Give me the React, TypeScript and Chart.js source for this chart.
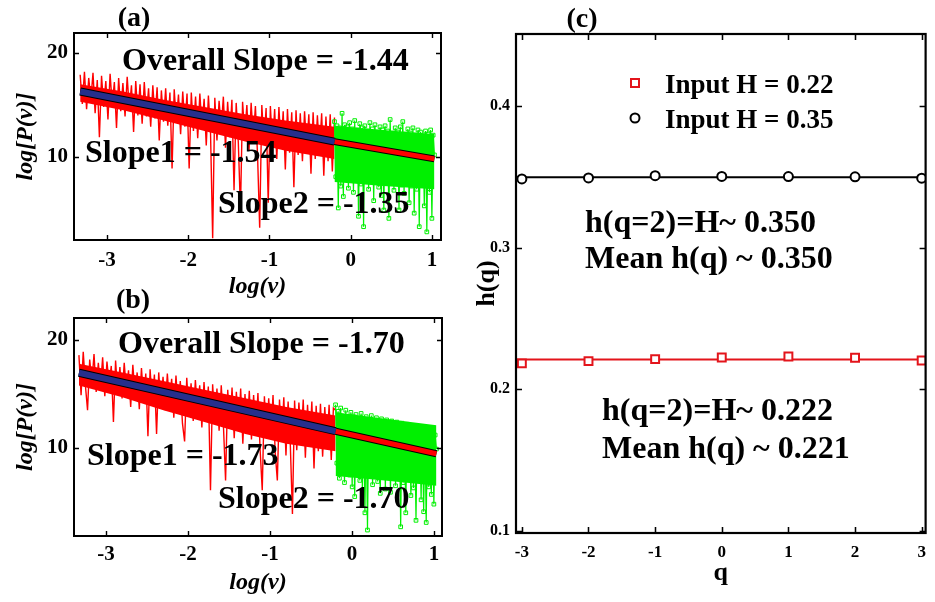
import React, { useEffect, useRef } from "react";
import { Chart, registerables } from "chart.js";

Chart.register(...registerables);

const SERIF = '"Liberation Serif", "Times New Roman", Times, serif';

// ---------- spectra, panels (a) and (b) ----------
// log(ν) extent: the low-frequency band (red) ends where the high-frequency band (green) starts
const LOG_NU_START = -3.33;
const LOG_NU_SPLIT = -0.2;
const LOG_NU_END = 1.03;

const SPECTRUM_X_TICKS = [-3, -2, -1, 0, 1];
const SPECTRUM_Y_TICKS = [10, 20];

// knots of the densely packed core of each band (where the bins overlap into a solid area)
const LOW_CORE_X = [-3.33, -2.8, -2.3, -1.8, -1.3, -0.8, -0.2];
const HIGH_CORE_X = [-0.2, 0.4, 1.03];

// (a) log[P(ν)] per bin, low band
const LOW_BAND_A = [
  17.9, 15.1, 18.2, 14.6, 17.6, 15.5, 18.1, 14.2, 17.4, 11.9,
  17.8, 14.8, 17.3, 13.6, 18.0, 15.0, 17.2, 12.8, 17.6, 14.4,
  17.1, 13.9, 17.7, 14.6, 16.9, 12.4, 17.3, 14.0, 17.0, 13.2,
  17.2, 13.9, 16.6, 12.9, 16.9, 13.7, 16.7, 11.6, 16.4, 13.4,
  16.6, 13.0, 16.2, 8.9, 16.5, 13.3, 16.0, 12.2, 16.3, 12.9,
  16.1, 8.9, 16.2, 12.5, 15.8, 11.8, 16.1, 12.8, 15.6, 11.1,
  15.9, 12.3, 2.2, 15.7, 11.6, 15.4, 12.7, 15.8, 10.9, 15.3,
  11.9, 15.5, 6.8, 15.2, 11.4, 4.9, 15.3, 12.1, 15.0, 10.6,
  15.2, 11.7, 14.9, 10.2, 3.2, 15.0, 11.3, 14.7, 5.6, 14.9,
  10.9, 14.6, 9.8, 14.8, 10.8, 14.4, 8.8, 14.6, 10.4, 14.3,
  7.1, 14.5, 10.2, 14.2, 9.6, 14.4, 10.7, 14.1, 8.4, 14.3,
  9.8, 14.0, 10.5, 14.2, 8.2, 13.9, 9.6, 14.1, 8.6, 13.8,
];
// (a) high band
const HIGH_BAND_A = [
  13.4, 8.1, 13.0, 5.1, 12.8, 7.2, 14.2, 6.2, 13.1, 8.4,
  12.9, 7.0, 13.3, 9.1, 12.7, 6.6, 13.5, 8.0, 12.6, 4.3,
  13.2, 7.4, 12.8, 3.3, 13.0, 8.3, 12.5, 6.9, 13.3, 7.8,
  12.7, 5.8, 13.1, 8.6, 12.4, 7.1, 12.9, 6.3, 12.6, 4.9,
  13.0, 7.5, 12.5, 4.1, 13.6, 8.2, 12.3, 6.8, 12.8, 7.6,
  12.4, 4.9, 12.9, 7.3, 13.4, 6.5, 12.2, 8.0, 12.7, 5.6,
  12.3, 7.2, 12.8, 4.6, 12.1, 6.9, 12.6, 3.3, 12.4, 7.8,
  12.0, 5.3, 12.5, 2.8, 12.2, 6.6, 12.6, 4.1, 12.1, 10.2,
];
const LOW_CORE_TOP_A = [17.0, 16.3, 15.5, 14.8, 14.1, 13.5, 12.9];
const LOW_CORE_BOTTOM_A = [15.3, 14.5, 13.5, 12.5, 11.5, 10.6, 9.8];
const HIGH_CORE_TOP_A = [13.0, 12.6, 12.2];
const HIGH_CORE_BOTTOM_A = [7.6, 7.2, 6.9];
const FIT_START_A = 16.3;
const SLOPE1_A = -1.54;
const SLOPE2_A = -1.35;
const OVERALL_SLOPE_A = -1.44;

// (b) low band
const LOW_BAND_B = [
  18.6, 14.9, 18.9, 15.8, 13.5, 18.2, 16.0, 18.7, 15.2, 17.9,
  15.6, 18.4, 14.8, 18.0, 15.9, 17.6, 12.4, 18.1, 15.0, 17.5,
  14.6, 17.9, 15.3, 17.2, 13.8, 17.7, 14.9, 17.0, 13.6, 17.4,
  14.4, 16.9, 11.1, 17.3, 14.2, 16.8, 11.3, 17.0, 13.9, 16.6,
  13.5, 16.9, 14.0, 16.4, 12.8, 16.7, 13.6, 16.2, 12.3, 10.6,
  16.5, 13.2, 16.0, 12.5, 16.3, 13.4, 15.8, 11.9, 16.1, 12.8,
  15.7, 6.1, 15.9, 12.4, 15.5, 11.6, 15.8, 12.1, 7.0, 15.4,
  11.8, 15.6, 10.9, 15.2, 11.9, 15.5, 10.4, 15.0, 11.5, 15.3,
  10.8, 14.9, 11.3, 15.1, 9.9, 6.1, 14.8, 10.9, 14.6, 11.2,
  14.9, 9.6, 7.0, 14.5, 10.7, 14.7, 9.3, 14.3, 10.4, 3.9,
  14.4, 9.8, 14.2, 10.5, 14.5, 9.1, 14.0, 10.2, 14.3, 8.1,
  13.9, 9.7, 14.1, 9.2, 13.8, 10.0, 14.0, 8.9, 13.7, 13.5,
];
// (b) high band
const HIGH_BAND_B = [
  14.0, 8.6, 13.4, 7.2, 13.7, 9.0, 12.9, 6.8, 13.5, 8.1,
  12.8, 7.5, 13.3, 6.4, 12.9, 5.5, 13.1, 8.3, 12.6, 7.0,
  13.2, 6.1, 12.7, 4.0, 12.9, 2.4, 12.5, 7.8, 13.0, 6.6,
  12.4, 8.0, 12.8, 6.9, 12.3, 5.8, 12.7, 7.4, 12.2, 6.2,
  12.6, 7.7, 12.1, 5.9, 12.5, 7.2, 12.0, 6.5, 12.4, 7.9,
  11.9, 2.7, 12.3, 6.8, 11.8, 4.0, 12.2, 7.1, 11.7, 5.6,
  12.1, 6.3, 11.6, 3.3, 12.0, 7.0, 11.5, 5.2, 11.9, 4.1,
  11.4, 3.1, 11.8, 6.4, 11.3, 5.7, 11.7, 4.8, 11.2, 9.9,
];
const LOW_CORE_TOP_B = [17.8, 17.0, 16.2, 15.4, 14.6, 13.8, 13.0];
const LOW_CORE_BOTTOM_B = [15.8, 14.7, 13.5, 12.4, 11.3, 10.4, 9.7];
const HIGH_CORE_TOP_B = [13.3, 12.7, 12.1];
const HIGH_CORE_BOTTOM_B = [7.4, 7.0, 6.5];
const FIT_START_B = 16.97;
const SLOPE1_B = -1.73;
const SLOPE2_B = -1.70;
const OVERALL_SLOPE_B = -1.70;

// ---------- generalized Hurst exponents, panel (c) ----------
const Q_VALUES = [-3, -2, -1, 0, 1, 2, 3];
const H_INPUT_022 = [0.2183, 0.2199, 0.2213, 0.2225, 0.2232, 0.2223, 0.2204];
const H_INPUT_035 = [0.3485, 0.3492, 0.3508, 0.3503, 0.3502, 0.35, 0.349];
const Q_TICKS = [-3, -2, -1, 0, 1, 2, 3];
const H_TICKS = [0.1, 0.2, 0.3, 0.4];
const SERIES_LABELS = ["Input H = 0.22", "Input H = 0.35"];

const RED = "#ff0000";
const GREEN = "#00f000";
const NAVY = "#262f8c";
const RED_C = "#e3141b";

type Pt = { x: number; y: number };
type Label = { text: string; x: number; y: number; size: number; align?: CanvasTextAlign };

// spread a band's bins evenly over its log(ν) span
function binPoints(values: number[], from: number, to: number): Pt[] {
  const step = (to - from) / (values.length - 1);
  return values.map((y, i) => ({ x: from + i * step, y }));
}

const zipPts = (xs: number[], ys: number[]): Pt[] => xs.map((x, i) => ({ x, y: ys[i] }));

function fitSegment(x0: number, y0: number, x1: number, slope: number): Pt[] {
  return [
    { x: x0, y: y0 },
    { x: x1, y: y0 + slope * (x1 - x0) },
  ];
}

const mean = (a: number[]) => a.reduce((s, v) => s + v, 0) / a.length;
const fmtSlope = (s: number) => s.toFixed(2);

// Matlab-like closed box with inward tick marks on all four sides
function framePlugin(tickLen: number, width: number) {
  return {
    id: "frame",
    afterDraw(chart: any) {
      const { ctx, chartArea } = chart;
      const { left, right, top, bottom } = chartArea;
      const x = chart.scales.x;
      const y = chart.scales.y;
      ctx.save();
      ctx.strokeStyle = "#000";
      ctx.lineWidth = width;
      ctx.strokeRect(left, top, right - left, bottom - top);
      ctx.lineWidth = Math.max(1.2, width * 0.7);
      ctx.beginPath();
      for (const t of x.ticks) {
        const px = Math.round(x.getPixelForValue(t.value)) + 0.5;
        ctx.moveTo(px, bottom);
        ctx.lineTo(px, bottom - tickLen);
        ctx.moveTo(px, top);
        ctx.lineTo(px, top + tickLen);
      }
      for (const t of y.ticks) {
        const py = Math.round(y.getPixelForValue(t.value)) + 0.5;
        ctx.moveTo(left, py);
        ctx.lineTo(left + tickLen, py);
        ctx.moveTo(right, py);
        ctx.lineTo(right - tickLen, py);
      }
      ctx.stroke();
      ctx.restore();
    },
  };
}

function textPlugin(labels: Label[]) {
  return {
    id: "annotations",
    afterDatasetsDraw(chart: any) {
      const ctx = chart.ctx;
      ctx.save();
      ctx.fillStyle = "#000";
      ctx.textBaseline = "alphabetic";
      for (const l of labels) {
        ctx.font = `bold ${l.size}px ${SERIF}`;
        ctx.textAlign = l.align ?? "left";
        ctx.fillText(l.text, l.x, l.y);
      }
      ctx.restore();
    },
  };
}

function axisCommon(opts: {
  min: number;
  max: number;
  ticks: number[];
  tickSize: number;
  tickPad: number;
  fit: (s: any) => void;
  title: string;
  titleFont: any;
  titlePad: any;
}) {
  return {
    type: "linear",
    min: opts.min,
    max: opts.max,
    afterBuildTicks: (s: any) => {
      s.ticks = opts.ticks.map((v) => ({ value: v }));
    },
    afterFit: opts.fit,
    grid: { display: false, drawTicks: false },
    border: { display: false },
    ticks: {
      autoSkip: false,
      maxRotation: 0,
      color: "#000",
      padding: opts.tickPad,
      font: { family: SERIF, size: opts.tickSize, weight: "bold" },
      callback: (v: number) => String(v),
    },
    title: {
      display: true,
      text: opts.title,
      color: "#000",
      font: opts.titleFont,
      padding: opts.titlePad,
    },
  };
}

function spectrumConfig(spec: {
  low: number[];
  high: number[];
  lowCore: [number[], number[]];
  highCore: [number[], number[]];
  fitStart: number;
  slope1: number;
  slope2: number;
  xRange: [number, number];
  yRange: [number, number];
  padTop: number;
  padRight: number;
  xAxisHeight: number;
  xTickPad: number;
  xTitlePad: number;
  labels: Label[];
}): any {
  const lowPts = binPoints(spec.low, LOG_NU_START, LOG_NU_SPLIT);
  const highPts = binPoints(spec.high, LOG_NU_SPLIT, LOG_NU_END);
  const fit1 = fitSegment(LOG_NU_START, spec.fitStart, LOG_NU_SPLIT, spec.slope1);
  const fit2 = fitSegment(LOG_NU_SPLIT, fit1[1].y, LOG_NU_END, spec.slope2);
  const titleFont = { family: SERIF, size: 24, weight: "bold", style: "italic" };
  const line = (data: Pt[], color: string, width: number, order: number) => ({
    data,
    showLine: true,
    borderColor: color,
    borderWidth: width,
    pointRadius: 0,
    tension: 0,
    fill: false,
    order,
  });
  const coreEdge = (data: Pt[], color: string | null, order: number) => ({
    data,
    showLine: true,
    borderColor: "rgba(0,0,0,0)",
    borderWidth: 1,
    pointRadius: 0,
    tension: 0,
    fill: color ? "-1" : false,
    backgroundColor: color ?? "rgba(0,0,0,0)",
    order,
  });
  return {
    type: "line",
    data: {
      datasets: [
        line(fit1, NAVY, 6, 0),
        line(fit2, RED, 5, 0),
        line(fit1, "#000", 8, 1),
        line(fit2, "#000", 7, 1),
        {
          data: highPts,
          showLine: true,
          borderColor: GREEN,
          borderWidth: 1.2,
          pointStyle: "rect",
          pointRadius: 2.6,
          pointBorderWidth: 1,
          pointBorderColor: GREEN,
          pointBackgroundColor: "rgba(0,0,0,0)",
          tension: 0,
          fill: false,
          order: 2,
        },
        line(lowPts, RED, 1.4, 3),
        coreEdge(zipPts(HIGH_CORE_X, spec.highCore[0]), null, 4),
        coreEdge(zipPts(HIGH_CORE_X, spec.highCore[1]), GREEN, 4),
        coreEdge(zipPts(LOW_CORE_X, spec.lowCore[0]), null, 5),
        coreEdge(zipPts(LOW_CORE_X, spec.lowCore[1]), RED, 5),
      ],
    },
    options: {
      animation: false,
      responsive: false,
      devicePixelRatio: 1,
      events: [],
      layout: { padding: { top: spec.padTop, right: spec.padRight, left: 0, bottom: 0 } },
      plugins: { legend: { display: false }, tooltip: { enabled: false }, filler: { propagate: false } },
      scales: {
        x: axisCommon({
          min: spec.xRange[0],
          max: spec.xRange[1],
          ticks: SPECTRUM_X_TICKS,
          tickSize: 21,
          tickPad: spec.xTickPad,
          fit: (s: any) => {
            s.height = spec.xAxisHeight;
          },
          title: "log(\u03bd)",
          titleFont,
          titlePad: { top: 0, bottom: spec.xTitlePad },
        }),
        y: axisCommon({
          min: spec.yRange[0],
          max: spec.yRange[1],
          ticks: SPECTRUM_Y_TICKS,
          tickSize: 21,
          tickPad: 6,
          fit: (s: any) => {
            s.width = 74;
          },
          title: "log[P(\u03bd)]",
          titleFont,
          titlePad: { top: 11, bottom: 0 },
        }),
      },
    },
    plugins: [textPlugin(spec.labels), framePlugin(5, 2)],
  };
}

function hurstConfig(): any {
  const qMin = -3.088;
  const qMax = 3.059;
  const m022 = mean(H_INPUT_022);
  const m035 = mean(H_INPUT_035);
  const at2 = Q_VALUES.indexOf(2);
  const pts = (hs: number[]) => Q_VALUES.map((q, i) => ({ x: q, y: hs[i] }));
  const flat = (v: number) => [
    { x: qMin, y: v },
    { x: qMax, y: v },
  ];
  const legendPlugin = {
    id: "seriesKey",
    afterDatasetsDraw(chart: any) {
      const ctx = chart.ctx;
      ctx.save();
      ctx.lineWidth = 2;
      ctx.strokeStyle = RED_C;
      ctx.fillStyle = "#fff";
      ctx.fillRect(166, 79, 8, 8);
      ctx.strokeRect(166, 79, 8, 8);
      ctx.strokeStyle = "#000";
      ctx.beginPath();
      ctx.arc(170, 118, 4.5, 0, Math.PI * 2);
      ctx.fill();
      ctx.stroke();
      ctx.fillStyle = "#000";
      ctx.font = `bold 27px ${SERIF}`;
      ctx.textAlign = "left";
      ctx.fillText(SERIES_LABELS[0], 200, 93);
      ctx.fillText(SERIES_LABELS[1], 200, 128);
      ctx.restore();
    },
  };
  const labels: Label[] = [
    { text: `h(q=2)=H~ ${H_INPUT_035[at2].toFixed(3)}`, x: 120, y: 232, size: 32 },
    { text: `Mean h(q) ~ ${m035.toFixed(3)}`, x: 120, y: 268, size: 32 },
    { text: `h(q=2)=H~ ${H_INPUT_022[at2].toFixed(3)}`, x: 137, y: 420, size: 32 },
    { text: `Mean h(q) ~ ${m022.toFixed(3)}`, x: 137, y: 458, size: 32 },
    { text: "(c)", x: 117, y: 27, size: 28, align: "center" },
  ];
  const titleFont = { family: SERIF, size: 26, weight: "bold" };
  return {
    type: "scatter",
    data: {
      datasets: [
        {
          data: pts(H_INPUT_022),
          pointStyle: "rect",
          pointRadius: 5.6,
          pointBorderWidth: 2,
          pointBorderColor: RED_C,
          pointBackgroundColor: "#fff",
          order: 0,
        },
        {
          data: pts(H_INPUT_035),
          pointStyle: "circle",
          pointRadius: 4.5,
          pointBorderWidth: 2,
          pointBorderColor: "#000",
          pointBackgroundColor: "#fff",
          order: 0,
        },
        { data: flat(m022), showLine: true, borderColor: RED_C, borderWidth: 2, pointRadius: 0, order: 1 },
        { data: flat(m035), showLine: true, borderColor: "#000", borderWidth: 2, pointRadius: 0, order: 1 },
      ],
    },
    options: {
      animation: false,
      responsive: false,
      devicePixelRatio: 1,
      events: [],
      layout: { padding: { top: 34, right: 2, left: 0, bottom: 0 } },
      plugins: { legend: { display: false }, tooltip: { enabled: false } },
      scales: {
        x: axisCommon({
          min: qMin,
          max: qMax,
          ticks: Q_TICKS,
          tickSize: 17,
          tickPad: 9,
          fit: (s: any) => {
            s.height = 69;
          },
          title: "q",
          titleFont,
          titlePad: { top: 0, bottom: 13 },
        }),
        y: axisCommon({
          min: 0.0986,
          max: 0.4508,
          ticks: H_TICKS,
          tickSize: 16,
          tickPad: 6,
          fit: (s: any) => {
            s.width = 51;
          },
          title: "h(q)",
          titleFont,
          titlePad: { top: 7, bottom: 0 },
        }),
      },
    },
    plugins: [textPlugin(labels), legendPlugin, framePlugin(6, 2.2)],
  };
}

function Panel(props: { left: number; top: number; width: number; height: number; build: () => any }) {
  const ref = useRef<HTMLCanvasElement>(null);
  useEffect(() => {
    const chart = new Chart(ref.current as HTMLCanvasElement, props.build());
    return () => chart.destroy();
  }, []);
  return (
    <canvas
      ref={ref}
      width={props.width}
      height={props.height}
      style={{ position: "absolute", left: props.left, top: props.top, width: props.width, height: props.height }}
    />
  );
}

export default function App() {
  return (
    <div style={{ position: "absolute", left: 0, top: 0, width: 935, height: 602, background: "#fff", overflow: "hidden" }}>
      <Panel
        left={0}
        top={0}
        width={465}
        height={301}
        build={() =>
          spectrumConfig({
            low: LOW_BAND_A,
            high: HIGH_BAND_A,
            lowCore: [LOW_CORE_TOP_A, LOW_CORE_BOTTOM_A],
            highCore: [HIGH_CORE_TOP_A, HIGH_CORE_BOTTOM_A],
            fitStart: FIT_START_A,
            slope1: SLOPE1_A,
            slope2: SLOPE2_A,
            xRange: [-3.406, 1.111],
            yRange: [2.02, 21.92],
            padTop: 33,
            padRight: 24,
            xAxisHeight: 61,
            xTickPad: 8,
            xTitlePad: 0,
            labels: [
              { text: "(a)", x: 134, y: 26, size: 28, align: "center" },
              { text: `Overall Slope = ${fmtSlope(OVERALL_SLOPE_A)}`, x: 122, y: 70, size: 32 },
              { text: `Slope1 = ${fmtSlope(SLOPE1_A)}`, x: 85, y: 162, size: 32 },
              { text: `Slope2 = ${fmtSlope(SLOPE2_A)}`, x: 218, y: 213, size: 32 },
            ],
          })
        }
      />
      <Panel
        left={0}
        top={288}
        width={465}
        height={314}
        build={() =>
          spectrumConfig({
            low: LOW_BAND_B,
            high: HIGH_BAND_B,
            lowCore: [LOW_CORE_TOP_B, LOW_CORE_BOTTOM_B],
            highCore: [HIGH_CORE_TOP_B, HIGH_CORE_BOTTOM_B],
            fitStart: FIT_START_B,
            slope1: SLOPE1_B,
            slope2: SLOPE2_B,
            xRange: [-3.39, 1.098],
            yRange: [1.85, 22.04],
            padTop: 30,
            padRight: 23,
            xAxisHeight: 66,
            xTickPad: 6,
            xTitlePad: 5,
            labels: [
              { text: "(b)", x: 133, y: 20, size: 28, align: "center" },
              { text: `Overall Slope = ${fmtSlope(OVERALL_SLOPE_B)}`, x: 118, y: 65, size: 32 },
              { text: `Slope1 = ${fmtSlope(SLOPE1_B)}`, x: 87, y: 177, size: 32 },
              { text: `Slope2 = ${fmtSlope(SLOPE2_B)}`, x: 218, y: 220, size: 32 },
            ],
          })
        }
      />
      <Panel left={465} top={0} width={470} height={602} build={hurstConfig} />
    </div>
  );
}
